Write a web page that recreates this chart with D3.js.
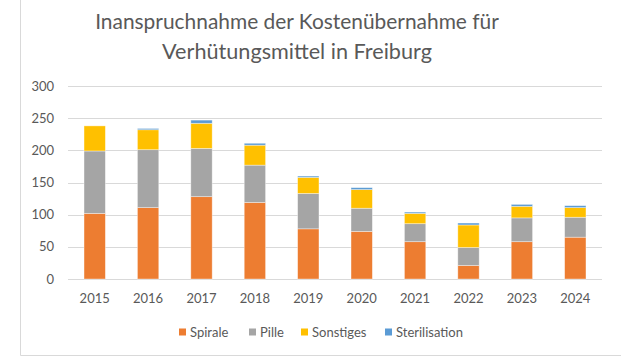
<!DOCTYPE html>
<html><head><meta charset="utf-8">
<script src="https://cdn.jsdelivr.net/npm/d3@7"></script>
<style>
html,body{margin:0;padding:0;background:#fff;}
svg{display:block;}
text{font-family:Lato,"Open Sans",sans-serif;fill:#595959;}
</style></head>
<body>
<svg id="chart" width="621" height="364"></svg>
<script>
const years = ["2015","2016","2017","2018","2019","2020","2021","2022","2023","2024"];
const seriesNames = ["Spirale","Pille","Sonstiges","Sterilisation"];
const spirale = [102,111,128,119,78,74,58,21,58,65];
const pille = [97,90,75,58,55,36,28,28,37,31];
const sonstiges = [39,31,39,31,25,29,16,35,18,15];
const sterilisation = [0,2,5,3,2,3,2,3,3,3];
const colors = ["#ED7D31","#A5A5A5","#FFC000","#5B9BD5"];
const yTicks = [0,50,100,150,200,250,300];
const titleLines = ["Inanspruchnahme der Kostenübernahme für","Verhütungsmittel in Freiburg"];

const svg = d3.select("#chart");
// chart border
svg.append("path").attr("d","M20.5,0 V355.5 H621").attr("fill","none").attr("stroke","#d9d9d9").attr("stroke-width",1);

const table = years.map((y,i)=>({year:y, Spirale:spirale[i], Pille:pille[i], Sonstiges:sonstiges[i], Sterilisation:sterilisation[i]}));
const stack = d3.stack().keys(seriesNames)(table);

const x = d3.scaleBand().domain(years).range([68,602]).paddingInner(0.6).paddingOuter(0.3);
const y = d3.scaleLinear().domain([0,300]).range([279,86]);

// gridlines
svg.append("g").selectAll("line").data(yTicks).join("line")
  .attr("x1",68).attr("x2",602)
  .attr("y1",d=>Math.round(y(d))+0.5).attr("y2",d=>Math.round(y(d))+0.5)
  .attr("stroke","#d9d9d9").attr("stroke-width",1);

// y labels
svg.append("g").selectAll("text").data(yTicks).join("text")
  .attr("x",54).attr("y",d=>y(d)).attr("dy","0.35em").attr("text-anchor","end")
  .attr("font-size",13).text(d=>d);

// bars
svg.append("g").selectAll("g").data(stack).join("g")
  .attr("fill",(d,i)=>colors[i])
  .selectAll("rect").data(d=>d).join("rect")
  .attr("x",d=>x(d.data.year)).attr("width",x.bandwidth())
  .attr("y",d=>y(d[1])).attr("height",d=>Math.max(0,y(d[0])-y(d[1])))
  .attr("stroke","#fff").attr("stroke-opacity",0.5).attr("stroke-width",0.75);

// x labels
svg.append("g").selectAll("text").data(years).join("text")
  .attr("x",d=>x(d)+x.bandwidth()/2).attr("y",298).attr("dy","0.35em")
  .attr("text-anchor","middle").attr("font-size",13).text(d=>d);

// title
const tw = [404, 270];
titleLines.forEach((t,i)=>{
  const el = svg.append("text").attr("x",297).attr("y",i===0?29:59)
    .attr("text-anchor","middle").attr("font-size",21).text(t);
  const w = el.node().getComputedTextLength();
  el.attr("font-size", 21*tw[i]/w);
});

// legend
const legX = [179,249,301,385];
const lg = svg.append("g").selectAll("g").data(seriesNames).join("g")
  .attr("transform",(d,i)=>`translate(${legX[i]},332)`);
lg.append("rect").attr("x",0).attr("y",-3.5).attr("width",7).attr("height",7).attr("fill",(d,i)=>colors[i]);
lg.append("text").attr("x",11).attr("y",0).attr("dy","0.35em").attr("font-size",13).text(d=>d);
</script>
</body></html>
